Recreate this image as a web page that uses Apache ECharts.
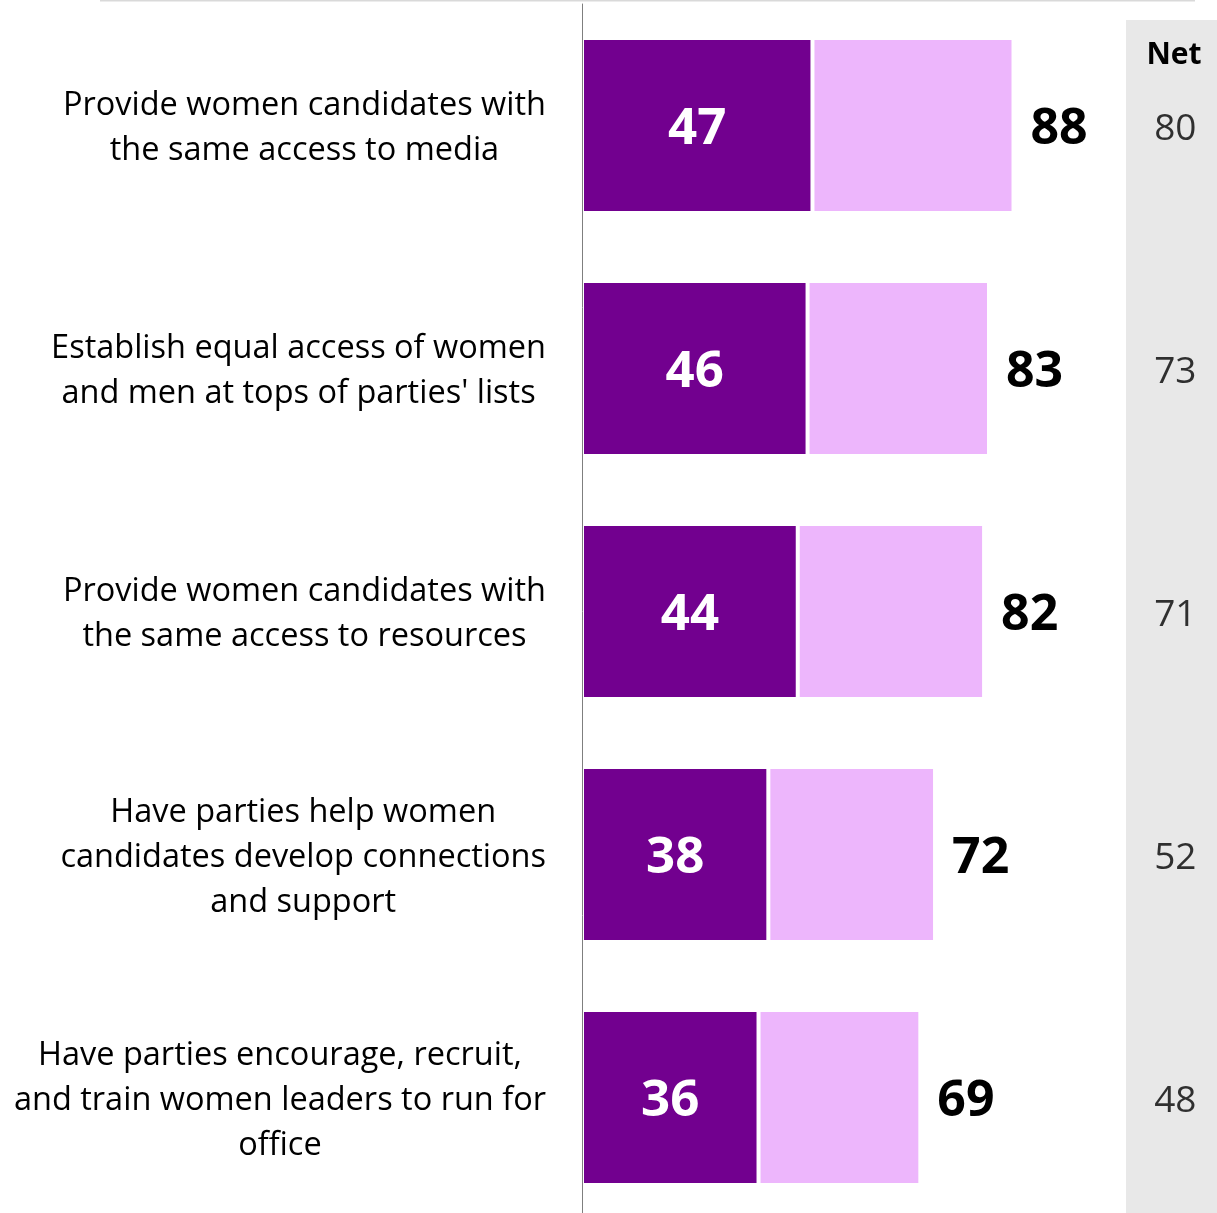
<!DOCTYPE html>
<html>
<head>
<meta charset="utf-8">
<script src="https://cdn.jsdelivr.net/npm/echarts@6/dist/echarts.min.js"></script>
<style>html,body{margin:0;padding:0;background:#fff;overflow:hidden;}#c{width:1217px;height:1220px;}</style>
</head>
<body>
<div id="c"></div>
<script>
var categories = [
  "Provide women candidates with\nthe same access to media",
  "Establish equal access of women\nand men at tops of parties' lists",
  "Provide women candidates with\nthe same access to resources",
  "Have parties help women\ncandidates develop connections\nand support",
  "Have parties encourage, recruit,\nand train women leaders to run for\noffice"
];
var strongValues = [47, 46, 44, 38, 36];
var totalValues = [88, 83, 82, 72, 69];
var netValues = [80, 73, 71, 52, 48];
var netHeader = "Net";
var netColumnX = 121;

var restValues = totalValues.map(function (t, i) { return t - strongValues[i]; });
var FONT = "'Open Sans', sans-serif";

var chart = echarts.init(document.getElementById('c'), null, {renderer: 'canvas'});
chart.setOption({
  animation: false,
  backgroundColor: '#ffffff',
  grid: {left: 582, right: 0, top: 4, bottom: 1, containLabel: false},
  xAxis: {type: 'value', min: 0, max: 129.5, show: false},
  yAxis: {
    type: 'category', data: categories, inverse: true, z: 10,
    axisLine: {show: true, lineStyle: {color: '#7f7f7f', width: 1}},
    axisTick: {show: false},
    splitLine: {show: false},
    axisLabel: {
      margin: 36, align: 'right',
      fontFamily: FONT, fontSize: 32.5, color: '#000', lineHeight: 45,
      padding: [6, 0, 0, 0],
      formatter: function (v) {
        return v.split('\n').map(function (l) { return '{c|' + l + '}'; }).join('\n');
      },
      rich: {c: {align: 'center', fontFamily: FONT, fontSize: 32.5, color: '#000', lineHeight: 45}}
    }
  },
  graphic: [
    {type: 'rect', z: -10, shape: {x: 1126, y: 20, width: 91, height: 1200}, style: {fill: '#e8e8e8'}},
    {type: 'line', z: -10, shape: {x1: 100, y1: 0.5, x2: 1195, y2: 0.5}, style: {stroke: '#d9d9d9', lineWidth: 2}},
    {type: 'text', z: 10, x: 1174, y: 55, style: {text: netHeader, fontFamily: FONT, fontWeight: 'bold', fontSize: 30, fill: '#000', textAlign: 'center', textVerticalAlign: 'middle'}}
  ],
  series: [
    {
      type: 'bar', stack: 's', data: strongValues, barWidth: 175,
      itemStyle: {color: '#72008f', borderColor: '#ffffff', borderWidth: 2},
      label: {show: true, position: 'inside', offset: [0, 4], color: '#ffffff', fontFamily: FONT, fontWeight: 'bold', fontSize: 51}
    },
    {
      type: 'bar', stack: 's', data: restValues, barWidth: 175,
      itemStyle: {color: '#edb6fc', borderColor: '#ffffff', borderWidth: 2},
      label: {show: true, position: 'right', distance: 17, offset: [0, 4], color: '#000000', fontFamily: FONT, fontWeight: 'bold', fontSize: 50,
        formatter: function (p) { return totalValues[p.dataIndex]; }}
    },
    {
      type: 'scatter', symbolSize: 0, silent: true,
      data: netValues.map(function (v, i) { return [netColumnX, i]; }),
      label: {show: true, position: 'inside', offset: [0, 4], color: '#000', fontFamily: FONT, fontSize: 37,
        formatter: function (p) { return netValues[p.dataIndex]; }}
    }
  ]
});
</script>
</body>
</html>
